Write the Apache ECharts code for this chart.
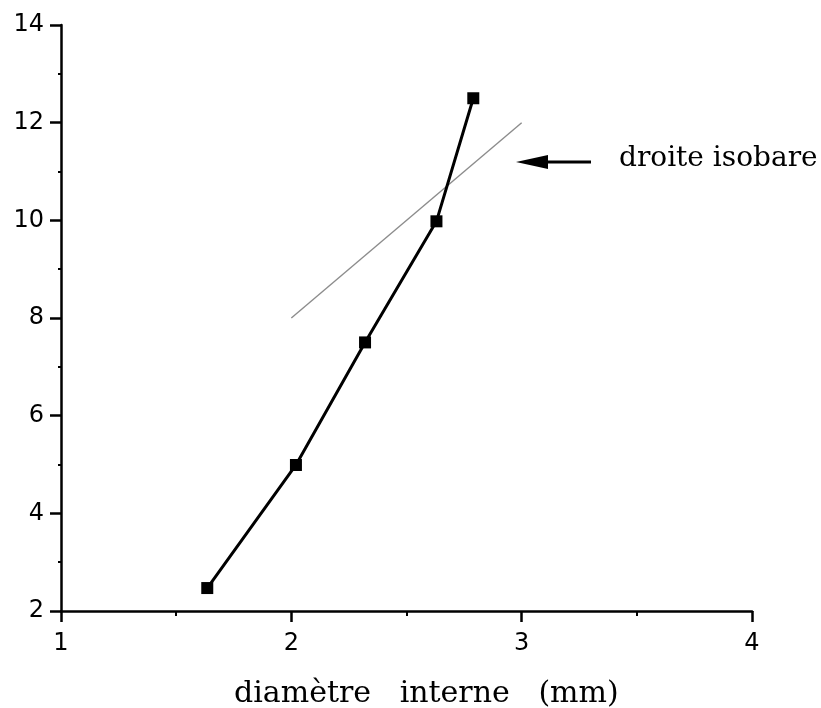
<!DOCTYPE html>
<html>
<head>
<meta charset="utf-8">
<script src="https://cdn.jsdelivr.net/npm/echarts@6/dist/echarts.min.js"></script>
<style>html,body{margin:0;padding:0;background:#fff}#c{width:821px;height:708px}</style>
</head>
<body>
<div id="c"></div>
<script>
// data
const diam = [1.635, 2.02, 2.32, 2.63, 2.79];
const values = [2.47, 4.99, 7.5, 9.98, 12.5];
const isobareX = [2.0, 3.0];
const isobareY = [8.0, 12.0];
const xTicks = [1, 2, 3, 4];
const yTicks = [2, 4, 6, 8, 10, 12, 14];
const xLabel = 'diamètre   interne   (mm)';
const noteLabel = 'droite isobare';

const chart = echarts.init(document.getElementById('c'), null, {renderer: 'canvas'});
const axisCommon = {
  type: 'value',
  axisLine: {onZero: false, lineStyle: {color: '#000', width: 2.5}},
  axisTick: {show: true, inside: false, length: 11, lineStyle: {color: '#000', width: 2.5}},
  minorTick: {show: true, splitNumber: 2, length: 5, lineStyle: {color: '#000', width: 2}},
  splitLine: {show: false},
  axisLabel: {color: '#000', fontFamily: 'DejaVu Sans', fontSize: 24}
};
chart.setOption({
  animation: false,
  backgroundColor: '#fff',
  grid: {left: 61, right: 69, top: 25, bottom: 97},
  xAxis: Object.assign({}, axisCommon, {
    min: xTicks[0], max: xTicks[xTicks.length - 1], interval: 1,
    axisLabel: Object.assign({}, axisCommon.axisLabel, {margin: 21})
  }),
  yAxis: Object.assign({}, axisCommon, {
    min: yTicks[0], max: yTicks[yTicks.length - 1], interval: 2,
    minorTick: Object.assign({}, axisCommon.minorTick, {length: 3}),
    axisLabel: Object.assign({}, axisCommon.axisLabel, {margin: 17})
  }),
  series: [
    {
      type: 'line',
      data: isobareX.map((x, i) => [x, isobareY[i]]),
      symbol: 'none',
      lineStyle: {color: '#8c8c8c', width: 1.4},
      z: 1
    },
    {
      type: 'line',
      data: diam.map((x, i) => [x, values[i]]),
      symbol: 'rect',
      symbolSize: 12,
      itemStyle: {color: '#000'},
      lineStyle: {color: '#000', width: 3},
      z: 2
    }
  ],
  graphic: [
    {
      type: 'text', left: 234, top: 679,
      style: {text: xLabel, font: '30px "DejaVu Serif"', fill: '#000'}
    },
    {
      type: 'text', left: 619, top: 145,
      style: {text: noteLabel, font: '28px "DejaVu Serif"', fill: '#000'}
    },
    {
      type: 'line',
      shape: {x1: 545, y1: 162, x2: 591, y2: 162},
      style: {stroke: '#000', lineWidth: 3}
    },
    {
      type: 'polygon',
      shape: {points: [[516, 162], [548, 155], [548, 169]]},
      style: {fill: '#000'}
    }
  ]
});
</script>
</body>
</html>
